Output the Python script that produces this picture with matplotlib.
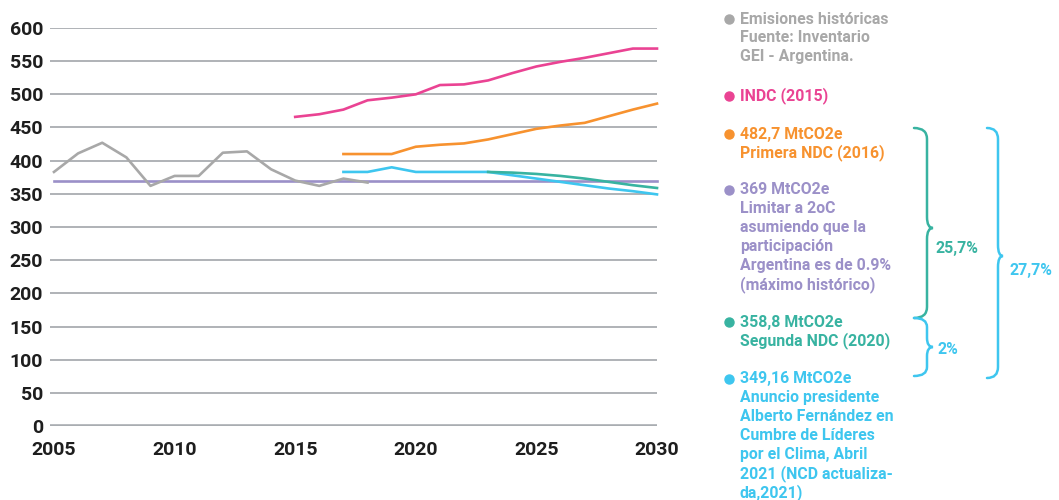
import numpy as np
import matplotlib
matplotlib.use("Agg")
import matplotlib.pyplot as plt
from matplotlib.path import Path
from matplotlib.patches import PathPatch

plt.rcParams['font.family'] = ['Roboto', 'DejaVu Sans']

# Data (MtCO2e)
hist_years = list(range(2005, 2019))
hist_vals = [383, 411, 427, 405, 362, 377, 377, 412, 414, 387, 370, 362, 373, 367]

indc_years = list(range(2015, 2031))
indc_vals = [466, 470, 477, 491, 495, 500, 514, 515, 521, 532, 542, 549, 555, 562, 569, 569]

ndc1_years = list(range(2017, 2031))
ndc1_vals = [410, 410, 410, 421, 424, 426, 432, 440, 448, 453, 457, 467, 477, 486]

limit_years = [2005, 2030]
limit_vals = [369, 369]

ndc2_years = list(range(2023, 2031))
ndc2_vals = [383, 382, 380, 377, 373, 368, 363, 358.8]

ndc21_years = list(range(2017, 2031))
ndc21_vals = [383, 383, 390, 383, 383, 383, 383, 378, 373, 368, 363, 358, 354, 349.16]

y_ticks = [0, 50, 100, 150, 200, 250, 300, 350, 400, 450, 500, 550, 600]
x_ticks = [2005, 2010, 2015, 2020, 2025, 2030]

GREY = '#a8a8a8'
PINK = '#ea4393'
ORANGE = '#f7922f'
PURPLE = '#9b90c8'
TEAL = '#38b3a1'
CYAN = '#3ec6ef'
GRID = '#a9adb1'
DARK = '#1e1e1e'

fig = plt.figure(figsize=(10.59, 5.0), dpi=100)
ax = fig.add_axes([50 / 1059, 74 / 500, 607 / 1059, 398 / 500])

ax.set_xlim(2004.835, 2029.876)
ax.set_ylim(0, 600)
for v in y_ticks:
    ax.axhline(v, color=GRID, lw=2.6 if v == 0 else 1.3, zorder=1)

lw = 1.9
ax.plot(hist_years, hist_vals, color=GREY, lw=lw, zorder=3, clip_on=False)
ax.plot(limit_years, limit_vals, color=PURPLE, lw=lw, zorder=2, clip_on=False)
ax.plot(indc_years, indc_vals, color=PINK, lw=lw, zorder=3, clip_on=False)
ax.plot(ndc1_years, ndc1_vals, color=ORANGE, lw=lw, zorder=3, clip_on=False)
ax.plot(ndc21_years, ndc21_vals, color=CYAN, lw=lw, zorder=3, clip_on=False)
ax.plot(ndc2_years, ndc2_vals, color=TEAL, lw=lw, zorder=4, clip_on=False)

for s in ax.spines.values():
    s.set_visible(False)
ax.set_yticks(y_ticks)
ax.set_xticks(x_ticks)
ax.tick_params(length=0, labelsize=14, labelcolor=DARK)
ax.tick_params(axis='y', pad=5)
ax.tick_params(axis='x', pad=11)
for lab in ax.get_xticklabels() + ax.get_yticklabels():
    lab.set_fontweight('bold')

# Legend / annotations overlay in pixel coordinates
ov = fig.add_axes([0, 0, 1, 1])
ov.set_xlim(0, 1059)
ov.set_ylim(500, 0)
ov.axis('off')

legend_blocks = [
    (GREY, ['Emisiones históricas', 'Fuente: Inventario', 'GEI - Argentina.'], 19),
    (PINK, ['INDC (2015)'], 96),
    (ORANGE, ['482,7 MtCO2e', 'Primera NDC (2016)'], 134),
    (PURPLE, ['369 MtCO2e', 'Limitar a 2oC', 'asumiendo que la', 'participación',
              'Argentina es de 0.9%', '(máximo histórico)'], 190),
    (TEAL, ['358,8 MtCO2e', 'Segunda NDC (2020)'], 322),
    (CYAN, ['349,16 MtCO2e', 'Anuncio presidente', 'Alberto Fernández en',
            'Cumbre de Líderes', 'por el Clima, Abril', '2021 (NCD actualiza-',
            'da,2021)'], 379),
]
line_h = 18.9
for color, lines, y0 in legend_blocks:
    ov.plot(729, y0, 'o', color=color, ms=6.5)
    for i, t in enumerate(lines):
        ov.text(740, y0 + i * line_h, t, color=color, fontsize=11.4,
                fontweight='bold', va='center', ha='left')


def brace(x_end, x_mid, x_tip, y_top, y_tip, y_bot, color, r=11):
    verts = [(x_end, y_top), (x_mid, y_top), (x_mid, y_top + r),
             (x_mid, y_tip - r), (x_mid, y_tip), (x_tip, y_tip),
             (x_mid, y_tip), (x_mid, y_tip + r),
             (x_mid, y_bot - r), (x_mid, y_bot), (x_end, y_bot)]
    codes = [Path.MOVETO, Path.CURVE3, Path.CURVE3,
             Path.LINETO, Path.CURVE3, Path.CURVE3,
             Path.CURVE3, Path.CURVE3,
             Path.LINETO, Path.CURVE3, Path.CURVE3]
    ov.add_patch(PathPatch(Path(verts, codes), fill=False, edgecolor=color,
                           lw=1.8, capstyle='round'))


brace(914, 927, 933, 128, 228, 318, TEAL)
brace(914, 927, 933, 318, 347, 376, CYAN, r=9)
brace(987, 998, 1003, 128, 256, 378, CYAN)

ov.text(936, 248, '25,7%', color=TEAL, fontsize=11.4, fontweight='bold', va='center')
ov.text(937, 349, '2%', color=CYAN, fontsize=11.4, fontweight='bold', va='center')
ov.text(1010, 271, '27,7%', color=CYAN, fontsize=11.4, fontweight='bold', va='center')

fig.savefig('out.png', dpi=100)
